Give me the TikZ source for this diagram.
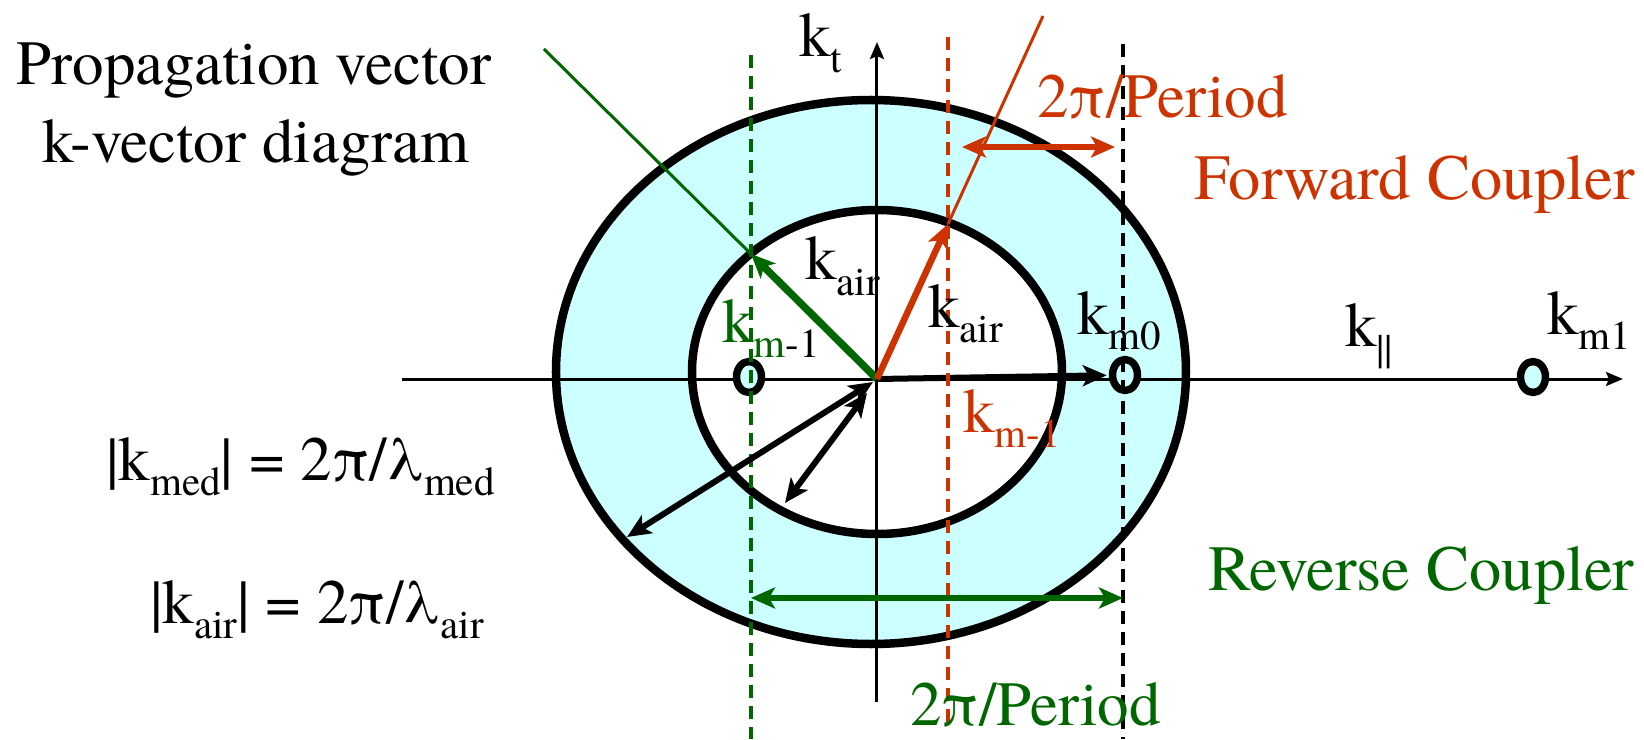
\documentclass[tikz,border=0pt]{standalone}
\usepackage{fontspec}
\setmainfont{TeX Gyre Termes}
\usetikzlibrary{arrows.meta,shapes.geometric}
\definecolor{ringcyan}{HTML}{CCFFFF}
\definecolor{fwdred}{HTML}{CC3300}
\definecolor{revgreen}{HTML}{006600}
\begin{document}
\begin{tikzpicture}[x=1pt, y=1pt, line join=round, font=\fontsize{63}{76}\selectfont,
	>={Stealth[length=24pt,width=21pt,inset=6pt]},
	every node/.style={inner sep=0pt, anchor=base west},
	ring/.style={draw, line width=8.5pt},
	spot/.style={ellipse, draw, line width=7.5pt, fill=ringcyan, minimum width=25pt, minimum height=31pt, anchor=center},
	vline/.style={line width=3.5pt, dash pattern=on 13pt off 8pt},
	axis/.style={line width=3pt, -{Stealth[length=17pt,width=14pt,inset=3pt]}},
	big/.style={font=\fontsize{64.5}{76}\selectfont}]
	\def\lo#1{\raisebox{-0.24em}{\fontsize{41}{41}\selectfont #1}}
	\useasboundingbox (-877,-360) rectangle (767,379);
	\coordinate (O) at (0,0);
	% rings
	\draw[ring, fill=ringcyan] (-6,7) ellipse [x radius=315, y radius=272];
	\draw[ring, fill=white] (0,7) ellipse [x radius=185, y radius=162];
	% axes
	\coordinate (xl) at (-475,0); \coordinate (xr) at (746,0);
	\coordinate (yb) at (0,-323); \coordinate (yt) at (0,337);
	\draw[axis] (xl) -- (xr);
	\draw[axis] (yb) -- (yt);
	% orders
	\node[spot] (mm) at (-128,2) {};
	\node[spot] (m0) at (248,4) {};
	\node[spot] (m1) at (656,2) {};
	\draw[->, line width=6pt, shorten >=2pt] (O) -- (m0);
	% dashed lines
	\draw[vline, revgreen] (-126,324) -- (-126,-360);
	\draw[vline, fwdred] (71,342) -- (71,-344);
	\draw[vline] (246,335) -- (246,-360);
	% k vectors
	\coordinate (gtip) at (-126,125); \coordinate (gend) at (-333,330);
	\coordinate (otip) at (71,155); \coordinate (oend) at (166,363);
	\draw[revgreen, line width=3pt] (gtip) -- (gend);
	\draw[revgreen, line width=7.5pt, ->] (O) -- (gtip);
	\draw[fwdred, line width=3pt] (otip) -- (oend);
	\draw[fwdred, line width=6.5pt, ->] (O) -- (otip);
	% 2pi/Period
	\coordinate (fl) at (85,232); \coordinate (fr) at (238,232);
	\draw[fwdred, line width=6.5pt, <->] (fl) -- (fr);
	\coordinate (rl) at (-126,-219); \coordinate (rr) at (246,-219);
	\draw[revgreen, line width=6.5pt, <->] (rl) -- (rr);
	% radii
	\coordinate (c0) at (-4,-3); \coordinate (cmed) at (-250,-158);
	\coordinate (c1) at (-10,-14); \coordinate (cair) at (-92,-124);
	\draw[<->, line width=6pt] (c0) -- (cmed);
	\draw[<->, line width=6pt] (c1) -- (cair);
	% labels
	\node[anchor=base] (prop) at (-623,294) {Propagation vector};
	\node[anchor=base] (kvec) at (-621,216) {k-vector diagram};
	\node (kt) at (-78,322) {k\lo{t}};
	\node (kag) at (-72,99) {k\lo{air}};
	\node (kao) at (51,52) {k\lo{air}};
	\node[revgreen] (kmg) at (-155,37) {k\lo{m}\color{black}\lo{-1}};
	\node[fwdred] (kmo) at (86,-53) {k\lo{m-1}};
	\node (km0) at (200,45) {k\lo{m0}};
	\node (kpar) at (468,32) {k\lo{||}};
	\node (km1) at (670,45) {k\lo{m1}};
	\node[fwdred] (perf) at (160,261) {2π/Period};
	\node[fwdred, big] (fwd) at (317,179) {Forward Coupler};
	\node[revgreen, big] (rev) at (331,-211) {Reverse Coupler};
	\node[revgreen] (perr) at (33,-346) {2π/Period};
	\node (kmed) at (-771,-101) {|k\lo{med}| = 2π/λ\lo{med}};
	\node (kair) at (-727,-244) {|k\lo{air}| = 2π/λ\lo{air}};
\end{tikzpicture}
\end{document}
